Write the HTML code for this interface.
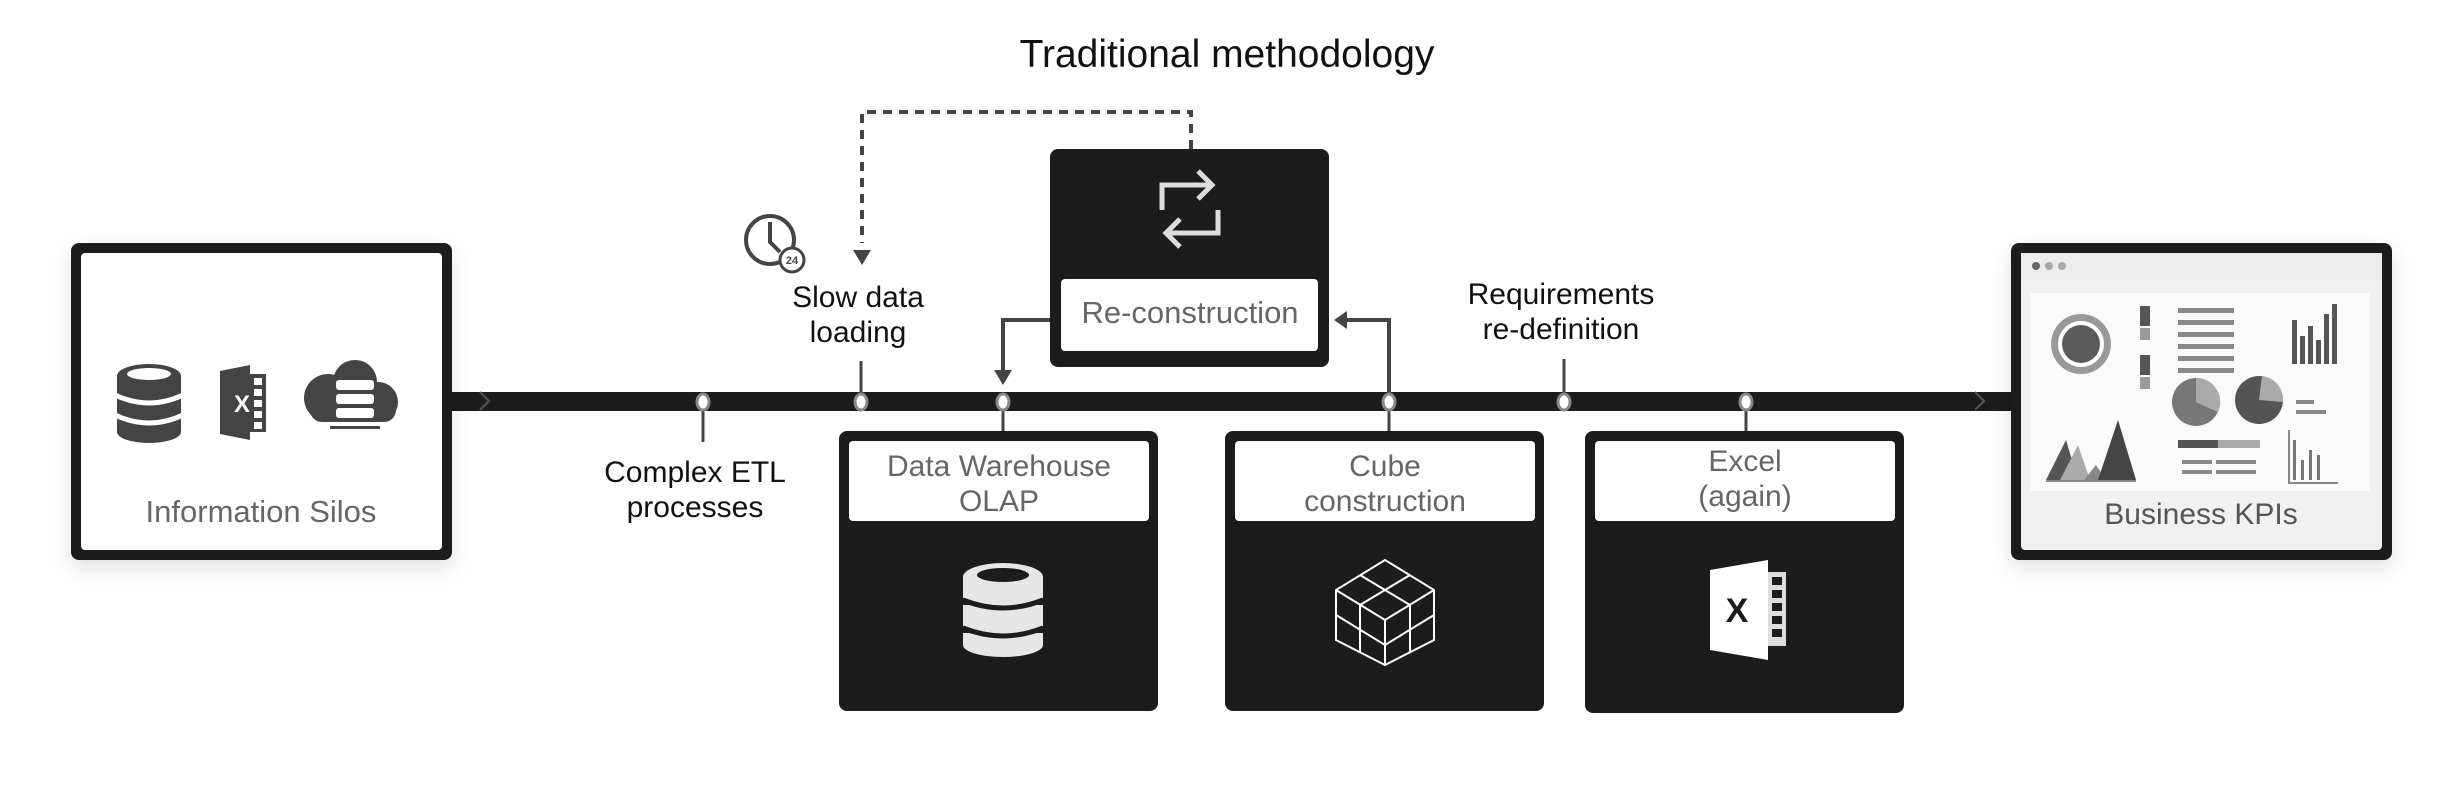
<!DOCTYPE html>
<html><head><meta charset="utf-8"><style>
html,body{margin:0;padding:0;background:#fff;}
svg{display:block;}
text{font-family:"Liberation Sans",sans-serif;}
</style></head><body>
<svg width="2460" height="800" viewBox="0 0 2460 800" xmlns="http://www.w3.org/2000/svg">
<defs>
<filter id="sh" x="-10%" y="-10%" width="120%" height="130%"><feDropShadow dx="0" dy="8" stdDeviation="10" flood-color="#000" flood-opacity="0.12"/></filter>
</defs>
<text x="1227" y="67" font-size="39" text-anchor="middle" fill="#111">Traditional methodology</text>

<!-- dashed loop -->
<polyline points="1191,149 1191,112 862,112 862,243" fill="none" stroke="#444" stroke-width="4" stroke-dasharray="9,7"/>
<polygon points="853,250 871,250 862,265" fill="#444"/>

<!-- timeline bar -->
<rect x="452" y="392" width="1562" height="19" fill="#1c1c1c"/>
<polyline points="480,392 489,401 480,410" fill="none" stroke="#555" stroke-width="2"/>
<polyline points="1975,392 1984,401 1975,410" fill="none" stroke="#555" stroke-width="2"/>

<!-- stems -->
<g stroke="#444" stroke-width="3" fill="none">
<line x1="703" y1="402" x2="703" y2="442"/>
<line x1="861" y1="361" x2="861" y2="402"/>
<line x1="1003" y1="402" x2="1003" y2="432"/>
<line x1="1389" y1="402" x2="1389" y2="432"/>
<line x1="1564" y1="359" x2="1564" y2="402"/>
<line x1="1746" y1="402" x2="1746" y2="432"/>
<polyline points="1050,320 1003,320 1003,372" stroke-width="4"/>
<polyline points="1389,402 1389,320 1345,320" stroke-width="4"/>
</g>
<polygon points="994,370 1012,370 1003,385" fill="#444"/>
<polygon points="1347,311 1347,329 1334,320" fill="#444"/>

<!-- nodes -->
<g fill="#fff" stroke="#888" stroke-width="3">
<ellipse cx="703" cy="402" rx="6" ry="8"/>
<ellipse cx="861" cy="402" rx="6" ry="8"/>
<ellipse cx="1003" cy="402" rx="6" ry="8"/>
<ellipse cx="1389" cy="402" rx="6" ry="8"/>
<ellipse cx="1564" cy="402" rx="6" ry="8"/>
<ellipse cx="1746" cy="402" rx="6" ry="8"/>
</g>

<!-- clock -->
<circle cx="770" cy="240" r="24" fill="none" stroke="#444" stroke-width="4"/>
<polyline points="770,222 770,242 780,252" fill="none" stroke="#444" stroke-width="4"/>
<circle cx="792" cy="260" r="12" fill="#fff" stroke="#444" stroke-width="3"/>
<text x="792" y="264" font-size="11" font-weight="bold" text-anchor="middle" fill="#444">24</text>

<!-- labels -->
<g font-size="30" fill="#111" text-anchor="middle">
<text x="858" y="307">Slow data</text>
<text x="858" y="342">loading</text>
<text x="695" y="482">Complex ETL</text>
<text x="695" y="517">processes</text>
<text x="1561" y="304">Requirements</text>
<text x="1561" y="339">re-definition</text>
</g>

<!-- left box -->
<g filter="url(#sh)"><rect x="71" y="243" width="381" height="317" rx="8" fill="#1c1c1c"/></g>
<rect x="81" y="253" width="361" height="297" rx="4" fill="#fff"/>
<g fill="#444">
<ellipse cx="149" cy="376" rx="32" ry="12"/>
<rect x="117" y="376" width="64" height="56"/>
<ellipse cx="149" cy="432" rx="32" ry="11"/>
</g>
<ellipse cx="149" cy="374" rx="22" ry="6" fill="#fff"/>
<g stroke="#fff" stroke-width="5" fill="none"><path d="M115,395 Q149,411 183,395"/><path d="M115,415 Q149,431 183,415"/></g>
<polygon points="220,371 250,365 250,440 220,434" fill="#444"/>
<rect x="250" y="374" width="16" height="58" fill="#444"/>
<g fill="#fff"><rect x="254" y="378" width="8" height="7"/><rect x="254" y="389" width="8" height="7"/><rect x="254" y="400" width="8" height="7"/><rect x="254" y="411" width="8" height="7"/><rect x="254" y="422" width="8" height="7"/></g>
<text x="242" y="412" font-size="24" fill="#fff" text-anchor="middle" font-weight="bold">X</text>
<g fill="#444"><circle cx="355" cy="382" r="22"/><circle cx="328" cy="398" r="24"/><circle cx="378" cy="402" r="20"/><rect x="310" y="398" width="86" height="24" rx="12"/></g>
<g fill="#fff"><rect x="336" y="380" width="38" height="10" rx="3"/><rect x="336" y="394" width="38" height="10" rx="3"/><rect x="336" y="408" width="38" height="10" rx="3"/></g>
<rect x="330" y="426" width="50" height="3" fill="#444"/>
<text x="261" y="522" font-size="31" fill="#666" text-anchor="middle">Information Silos</text>

<!-- reconstruction box -->
<rect x="1050" y="149" width="279" height="218" rx="8" fill="#1c1c1c"/>
<rect x="1061" y="279" width="257" height="72" rx="4" fill="#fff"/>
<text x="1190" y="323" font-size="31" fill="#666" text-anchor="middle">Re-construction</text>
<g fill="none" stroke="#ddd" stroke-width="5">
<polyline points="1162,210 1162,185 1210,185"/><polyline points="1198,171 1212,185 1198,199"/>
<polyline points="1218,210 1218,233 1168,233"/><polyline points="1180,219 1166,233 1180,247"/>
</g>

<!-- DW box -->
<rect x="839" y="431" width="319" height="280" rx="8" fill="#1c1c1c"/>
<rect x="849" y="441" width="300" height="80" rx="4" fill="#fff"/>
<text x="999" y="476" font-size="30" fill="#666" text-anchor="middle">Data Warehouse</text>
<text x="999" y="511" font-size="30" fill="#666" text-anchor="middle">OLAP</text>
<g fill="#e6e6e6">
<ellipse cx="1003" cy="577" rx="40" ry="14"/>
<rect x="963" y="577" width="80" height="20"/><ellipse cx="1003" cy="597" rx="40" ry="12"/>
<rect x="963" y="605" width="80" height="20"/><ellipse cx="1003" cy="625" rx="40" ry="12"/>
<rect x="963" y="633" width="80" height="12"/><ellipse cx="1003" cy="645" rx="40" ry="12"/>
</g>
<ellipse cx="1003" cy="575" rx="26" ry="7" fill="#1c1c1c"/>
<g stroke="#1c1c1c" stroke-width="5" fill="none"><path d="M963,600 Q1003,616 1043,600"/><path d="M963,628 Q1003,644 1043,628"/></g>

<!-- cube box -->
<rect x="1225" y="431" width="319" height="280" rx="8" fill="#1c1c1c"/>
<rect x="1235" y="441" width="300" height="80" rx="4" fill="#fff"/>
<text x="1385" y="476" font-size="30" fill="#666" text-anchor="middle">Cube</text>
<text x="1385" y="511" font-size="30" fill="#666" text-anchor="middle">construction</text>
<g fill="none" stroke="#fff" stroke-width="2">
<polygon points="1385,560 1434,590 1434,640 1385,665 1336,640 1336,590"/>
<polyline points="1336,590 1385,620 1434,590"/><line x1="1385" y1="620" x2="1385" y2="665"/>
<line x1="1360" y1="575" x2="1410" y2="605"/><line x1="1410" y1="575" x2="1360" y2="605"/>
<line x1="1336" y1="615" x2="1385" y2="645"/><line x1="1434" y1="615" x2="1385" y2="645"/>
<line x1="1360" y1="605" x2="1360" y2="652"/><line x1="1410" y1="605" x2="1410" y2="652"/>
</g>

<!-- excel box -->
<rect x="1585" y="431" width="319" height="282" rx="8" fill="#1c1c1c"/>
<rect x="1595" y="441" width="300" height="80" rx="4" fill="#fff"/>
<text x="1745" y="471" font-size="30" fill="#666" text-anchor="middle">Excel</text>
<text x="1745" y="506" font-size="30" fill="#666" text-anchor="middle">(again)</text>
<polygon points="1710,570 1768,560 1768,660 1710,650" fill="#fff"/>
<rect x="1768" y="572" width="18" height="74" fill="#ddd"/>
<g fill="#1c1c1c"><rect x="1772" y="577" width="10" height="8"/><rect x="1772" y="590" width="10" height="8"/><rect x="1772" y="603" width="10" height="8"/><rect x="1772" y="616" width="10" height="8"/><rect x="1772" y="629" width="10" height="8"/></g>
<text x="1737" y="622" font-size="34" fill="#1c1c1c" text-anchor="middle" font-weight="bold">X</text>

<!-- right box -->
<g filter="url(#sh)"><rect x="2011" y="243" width="381" height="317" rx="8" fill="#1c1c1c"/></g>
<rect x="2021" y="253" width="361" height="297" rx="4" fill="#f1f1f1"/>
<rect x="2021" y="253" width="361" height="27" fill="#ececec"/>
<circle cx="2036" cy="266" r="4" fill="#666"/><circle cx="2049" cy="266" r="4" fill="#aaa"/><circle cx="2062" cy="266" r="4" fill="#aaa"/>
<rect x="2030" y="293" width="340" height="198" fill="#fafafa"/>
<circle cx="2081" cy="344" r="30" fill="#999"/><circle cx="2081" cy="344" r="23" fill="#fff"/><circle cx="2081" cy="344" r="19" fill="#5a5a5a"/>
<rect x="2140" y="306" width="10" height="20" fill="#555"/><rect x="2140" y="328" width="10" height="12" fill="#999"/>
<rect x="2140" y="355" width="10" height="20" fill="#555"/><rect x="2140" y="377" width="10" height="12" fill="#999"/>
<g fill="#888"><rect x="2178" y="308" width="56" height="5"/><rect x="2178" y="320" width="56" height="5"/><rect x="2178" y="332" width="56" height="5"/><rect x="2178" y="344" width="56" height="5"/><rect x="2178" y="356" width="56" height="5"/><rect x="2178" y="368" width="56" height="5"/></g>
<g fill="#555"><rect x="2292" y="320" width="5" height="44"/><rect x="2300" y="336" width="5" height="28"/><rect x="2308" y="326" width="5" height="38"/><rect x="2316" y="340" width="5" height="24"/><rect x="2324" y="314" width="5" height="50"/><rect x="2332" y="304" width="5" height="60"/></g>
<circle cx="2196" cy="402" r="24" fill="#777"/><path d="M2196,402 L2196,378 A24,24 0 0,1 2218,412 Z" fill="#aaa"/>
<circle cx="2259" cy="400" r="24" fill="#555"/><path d="M2259,400 L2262,376 A24,24 0 0,1 2283,402 Z" fill="#aaa"/>
<rect x="2296" y="400" width="18" height="4" fill="#888"/><rect x="2296" y="410" width="30" height="4" fill="#888"/>
<polygon points="2046,480 2066,440 2078,480" fill="#555"/><polygon points="2060,480 2078,445 2090,480" fill="#aaa"/><polygon points="2084,480 2096,465 2106,480" fill="#888"/><polygon points="2098,480 2118,420 2136,480" fill="#444"/>
<rect x="2046" y="480" width="90" height="2" fill="#888"/>
<rect x="2178" y="440" width="40" height="8" fill="#555"/><rect x="2218" y="440" width="42" height="8" fill="#aaa"/>
<rect x="2182" y="460" width="30" height="4" fill="#888"/><rect x="2216" y="460" width="40" height="4" fill="#888"/><rect x="2182" y="470" width="30" height="4" fill="#888"/><rect x="2216" y="470" width="40" height="4" fill="#888"/>
<g fill="#777"><rect x="2293" y="440" width="3" height="40"/><rect x="2301" y="460" width="3" height="20"/><rect x="2309" y="450" width="3" height="30"/><rect x="2317" y="455" width="3" height="25"/></g>
<rect x="2288" y="482" width="50" height="2" fill="#888"/><rect x="2288" y="430" width="2" height="54" fill="#888"/>
<text x="2201" y="524" font-size="30" fill="#555" text-anchor="middle">Business KPIs</text>
</svg>
</body></html>
